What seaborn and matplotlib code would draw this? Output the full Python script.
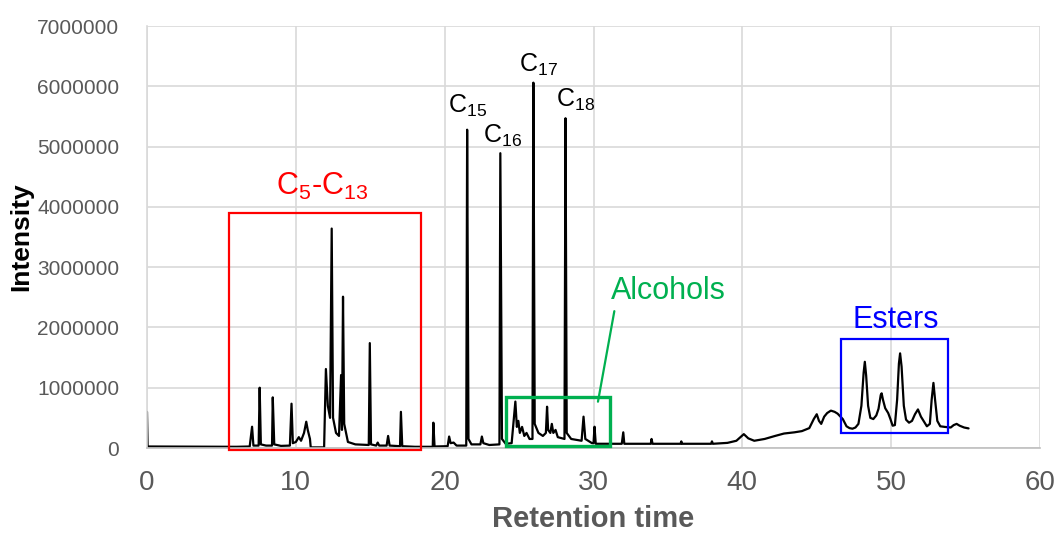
import matplotlib
matplotlib.use("Agg")
import matplotlib.pyplot as plt
import seaborn as sns
import pandas as pd
from matplotlib.patches import Rectangle

# ---- data: chromatogram trace ----
time = [0.0, 0.04, 6.0, 6.9, 7.06, 7.15, 7.5, 7.57, 7.65, 8.0, 8.4, 8.45, 8.55,
        9.0, 9.6, 9.71, 9.8, 10.0, 10.2, 10.35, 10.55, 10.7, 10.8, 10.95, 11.0,
        11.9, 12.02, 12.15, 12.3, 12.41, 12.5, 12.7, 12.9, 13.04, 13.1, 13.17,
        13.25, 13.5, 14.0, 14.9, 14.97, 15.05, 15.4, 15.5, 15.6, 16.1, 16.2,
        16.3, 17.0, 17.06, 17.15, 18.0, 19.2, 19.24, 19.32, 20.2, 20.3, 20.4,
        20.6, 20.8, 21.45, 21.51, 21.6, 21.8, 22.4, 22.5, 22.6, 23.0, 23.68,
        23.74, 23.85, 24.1, 24.5, 24.75, 24.85, 24.95, 25.05, 25.2, 25.35, 25.5,
        25.7, 25.9, 25.96, 26.05, 26.3, 26.6, 26.8, 26.88, 26.95, 27.1, 27.2,
        27.3, 27.45, 27.6, 28.05, 28.12, 28.2, 28.5, 29.2, 29.33, 29.45, 29.9,
        30.0, 30.07, 30.15, 31.9, 32.0, 32.07, 33.85, 33.9, 33.97, 35.85, 35.9,
        35.95, 37.9, 37.96, 38.02, 39.0, 39.6, 40.1, 40.4, 40.8, 41.5, 42.2,
        42.8, 43.5, 44.0, 44.5, 44.8, 45.0, 45.15, 45.3, 45.5, 45.7, 45.95,
        46.2, 46.4, 46.6, 46.75, 47.0, 47.2, 47.4, 47.6, 47.8, 48.0, 48.15,
        48.23, 48.32, 48.45, 48.6, 48.8, 49.0, 49.15, 49.3, 49.36, 49.45, 49.6,
        49.8, 49.95, 50.1, 50.25, 50.4, 50.52, 50.6, 50.7, 50.85, 51.0, 51.2,
        51.4, 51.6, 51.8, 52.0, 52.2, 52.4, 52.6, 52.72, 52.84, 52.95, 53.1,
        53.3, 53.6, 54.0, 54.2, 54.4, 54.6, 54.9, 55.2]
intensity = [600000, 25000, 20000, 25000, 353000, 40000, 40000, 1000000, 60000,
             40000, 40000, 840000, 60000, 35000, 40000, 735000, 80000, 100000,
             180000, 120000, 250000, 436000, 300000, 150000, 10000, 10000,
             1310000, 700000, 500000, 3640000, 500000, 250000, 200000, 1210000,
             300000, 2510000, 400000, 100000, 60000, 50000, 1740000, 60000,
             40000, 90000, 40000, 40000, 200000, 40000, 30000, 600000, 30000,
             20000, 20000, 420000, 25000, 30000, 190000, 80000, 90000, 40000,
             40000, 5280000, 150000, 60000, 60000, 190000, 80000, 50000, 60000,
             4890000, 150000, 70000, 80000, 770000, 350000, 450000, 250000,
             350000, 200000, 250000, 150000, 150000, 6060000, 400000, 250000,
             200000, 250000, 685000, 300000, 250000, 400000, 250000, 300000,
             180000, 150000, 5470000, 250000, 150000, 120000, 520000, 150000,
             80000, 80000, 353000, 70000, 70000, 260000, 70000, 70000, 150000,
             70000, 70000, 110000, 70000, 70000, 110000, 70000, 85000, 120000,
             230000, 160000, 120000, 150000, 200000, 240000, 260000, 280000,
             330000, 480000, 560000, 450000, 400000, 520000, 580000, 620000,
             600000, 570000, 520000, 480000, 360000, 330000, 320000, 340000,
             400000, 700000, 1250000, 1430000, 1200000, 700000, 500000, 480000,
             540000, 650000, 880000, 907000, 800000, 660000, 580000, 480000,
             370000, 380000, 800000, 1400000, 1570000, 1350000, 700000, 470000,
             420000, 450000, 560000, 640000, 520000, 440000, 360000, 400000,
             800000, 1080000, 800000, 450000, 360000, 350000, 340000, 380000,
             400000, 370000, 340000, 325000]

x_ticks = [0, 10, 20, 30, 40, 50, 60]
y_ticks = [0, 1000000, 2000000, 3000000, 4000000, 5000000, 6000000, 7000000]

peak_labels = ["15", "16", "17", "18"]

df = pd.DataFrame({"Retention time": time, "Intensity": intensity})

sns.set_theme(style="whitegrid")
plt.rcParams["font.family"] = ["Liberation Sans", "DejaVu Sans"]
plt.rcParams["mathtext.fontset"] = "custom"
plt.rcParams["mathtext.rm"] = "Liberation Sans"
plt.rcParams["mathtext.it"] = "Liberation Sans"
plt.rcParams["mathtext.bf"] = "Liberation Sans:bold"

fig = plt.figure(figsize=(10.59, 5.34), dpi=100)
ax = fig.add_axes([147 / 1059, 1 - 448 / 534, 893 / 1059, 422 / 534])

sns.lineplot(data=df, x="Retention time", y="Intensity", ax=ax, color="black",
             linewidth=1.6, estimator=None, sort=False)

ax.set_xlim(0, 60)
ax.set_ylim(0, 7000000)
ax.set_xticks(x_ticks)
ax.set_yticks(y_ticks)
ax.set_xticklabels([str(v) for v in x_ticks])
ax.set_yticklabels([str(v) for v in y_ticks])
ax.tick_params(axis="x", labelsize=20, labelcolor="#595959", length=0, pad=16)
ax.tick_params(axis="y", labelsize=15, labelcolor="#595959", length=0, pad=20)
ax.grid(True, color="#d9d9d9", linewidth=1.2)
for s in ["top", "right"]:
    ax.spines[s].set_visible(False)
ax.spines["left"].set_color("#d9d9d9")
ax.spines["left"].set_linewidth(1.2)
ax.spines["bottom"].set_color("#bfbfbf")
ax.spines["bottom"].set_linewidth(1.2)
ax.set_xlabel("Retention time", fontsize=21, fontweight="bold", color="#595959", labelpad=6)
ax.set_ylabel("Intensity", fontsize=19, fontweight="bold", color="black", labelpad=3)

# boxes
ax.add_patch(Rectangle((5.53, -33000), 18.4 - 5.53, 3890000 + 33000, fill=False,
                       edgecolor="#ff0000", linewidth=1.6, clip_on=False, zorder=5))
ax.add_patch(Rectangle((24.1, 33000), 31.1 - 24.1, 846000 - 33000, fill=False,
                       edgecolor="#00b050", linewidth=2.4, clip_on=False, zorder=5))
ax.add_patch(Rectangle((46.6, 243000), 53.8 - 46.6, 1800000 - 243000, fill=False,
                       edgecolor="#0000ff", linewidth=1.6, clip_on=False, zorder=5))
ax.plot([30.3, 31.4], [768000, 2270000], color="#00b050", linewidth=1.6, zorder=5)

# annotations
ax.text(11.75, 4196000, r"C$_{5}$-C$_{13}$", color="#ff0000", fontsize=22,
        ha="center", va="baseline")
ax.text(35.0, 2470000, "Alcohols", color="#00b050", fontsize=22,
        ha="center", va="baseline")
ax.text(50.3, 1990000, "Esters", color="#0000ff", fontsize=22,
        ha="center", va="baseline")
label_pos = [(20.2, 5557000), (22.55, 5060000), (24.98, 6237000), (27.5, 5656000)]
for lab, (tx, ty) in zip(peak_labels, label_pos):
    ax.text(tx, ty, r"C$_{%s}$" % lab, color="black", fontsize=18,
            ha="left", va="baseline")

fig.savefig("out.png", dpi=100)
